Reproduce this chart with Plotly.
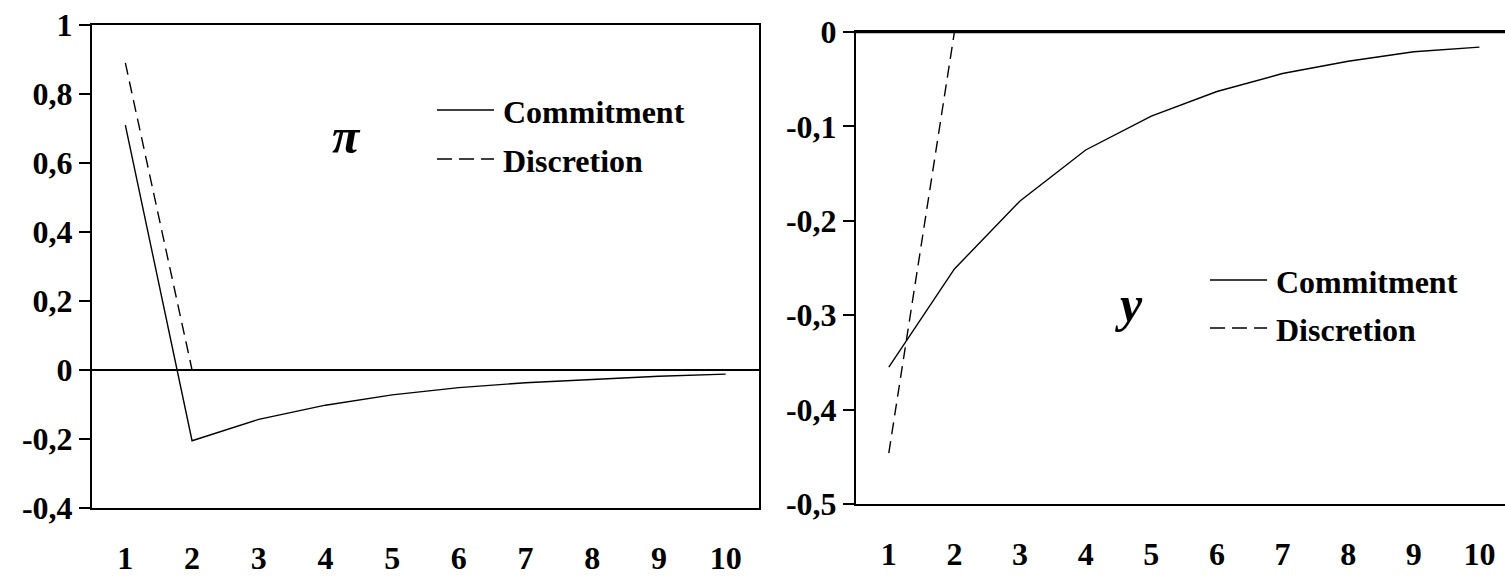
import plotly.graph_objects as go

W, H = 1505, 578

# ---------------- data ----------------
periods = [1, 2, 3, 4, 5, 6, 7, 8, 9, 10]
x_tick_labels = ["1", "2", "3", "4", "5", "6", "7", "8", "9", "10"]

pi_commitment = [0.71, -0.205, -0.143, -0.102, -0.072, -0.051, -0.037, -0.027, -0.018, -0.012]
pi_discretion = [0.89, 0.0, 0, 0, 0, 0, 0, 0, 0, 0]

y_commitment = [-0.355, -0.251, -0.179, -0.125, -0.089, -0.063, -0.044, -0.031, -0.021, -0.016]
y_discretion = [-0.446, 0, 0, 0, 0, 0, 0, 0, 0, 0]

pi_ticks = [1, 0.8, 0.6, 0.4, 0.2, 0, -0.2, -0.4]
pi_tick_labels = ["1", "0,8", "0,6", "0,4", "0,2", "0", "-0,2", "-0,4"]
y_ticks = [0, -0.1, -0.2, -0.3, -0.4, -0.5]
y_tick_labels = ["0", "-0,1", "-0,2", "-0,3", "-0,4", "-0,5"]

series_names = ["Commitment", "Discretion"]
panel_symbols = ["π", "y"]

# ---------------- styling ----------------
FONT = "Liberation Serif"
BLACK = "#000000"
DASH = "12px,7px"


def px(x):
    return x / W


def py(y):
    return 1 - y / H


fig = go.Figure()

# left panel (pi)
fig.add_trace(go.Scatter(x=periods, y=pi_commitment, mode="lines", name=series_names[0],
                         line=dict(color=BLACK, width=1.4), xaxis="x", yaxis="y", showlegend=False))
fig.add_trace(go.Scatter(x=periods, y=pi_discretion, mode="lines", name=series_names[1],
                         line=dict(color=BLACK, width=1.4, dash=DASH), xaxis="x", yaxis="y", showlegend=False))
# right panel (y)
fig.add_trace(go.Scatter(x=periods, y=y_commitment, mode="lines", name=series_names[0],
                         line=dict(color=BLACK, width=1.4), xaxis="x2", yaxis="y2", showlegend=False))
fig.add_trace(go.Scatter(x=periods, y=y_discretion, mode="lines", name=series_names[1],
                         line=dict(color=BLACK, width=1.4, dash=DASH), xaxis="x2", yaxis="y2", showlegend=False))

common_x = dict(tickmode="array", tickvals=periods, ticktext=x_tick_labels, showgrid=False,
                zeroline=False, showline=True, linecolor=BLACK, linewidth=2, ticks="",
                tickfont=dict(family=FONT, size=32, color=BLACK, weight="bold"), ticklabelstandoff=21,
                automargin=False, fixedrange=True)
common_y = dict(tickmode="array", showgrid=False, showline=True, linecolor=BLACK, linewidth=2,
                ticks="outside", ticklen=11, tickwidth=2, tickcolor=BLACK,
                tickfont=dict(family=FONT, size=32, color=BLACK, weight="bold"),
                ticklabelstandoff=0, automargin=False, fixedrange=True)

fig.update_layout(
    template="none",
    width=W, height=H,
    margin=dict(l=0, r=0, t=0, b=0, pad=0, autoexpand=False),
    paper_bgcolor="white", plot_bgcolor="white",
    font=dict(family=FONT, color=BLACK),
    xaxis=dict(domain=[px(92), px(759)], range=[0.5, 10.5], mirror=True, anchor="y", **common_x),
    yaxis=dict(domain=[py(508), py(25)], range=[-0.4, 1], tickvals=pi_ticks, ticktext=pi_tick_labels,
               mirror=True, zeroline=False, anchor="x", **common_y),
    xaxis2=dict(domain=[px(856), 1.0], range=[0.5, 10.39], mirror=True, anchor="y2", **common_x),
    yaxis2=dict(domain=[py(504), py(32)], range=[-0.5, 0], tickvals=y_ticks, ticktext=y_tick_labels,
                mirror=False, zeroline=False, anchor="x2", **common_y),
)

annotations = []
shapes = []

# horizontal zero axis lines drawn above the traces (as in the reference)
shapes.append(dict(type="line", xref="x domain", yref="y", x0=0, x1=1, y0=0, y1=0,
                   layer="above", line=dict(color=BLACK, width=2)))
shapes.append(dict(type="line", xref="x2 domain", yref="y2", x0=0, x1=1, y0=0, y1=0,
                   layer="above", line=dict(color=BLACK, width=2.5)))

# panel symbols
annotations.append(dict(x=px(346), y=py(136), xref="paper", yref="paper", text="<b><i>π</i></b>",
                        showarrow=False, font=dict(family=FONT, size=50, color=BLACK),
                        xanchor="center", yanchor="middle"))
annotations.append(dict(x=px(1129), y=py(304), xref="paper", yref="paper", text="<b><i>y</i></b>",
                        showarrow=False, font=dict(family=FONT, size=50, color=BLACK),
                        xanchor="center", yanchor="middle"))

# legend keys + labels (one legend per panel)
legend_blocks = [
    dict(x0=437, x1=494, tx=501, ys=[110, 159]),
    dict(x0=1210, x1=1267, tx=1274, ys=[280, 328]),
]
for blk in legend_blocks:
    for i, name in enumerate(series_names):
        yy = blk["ys"][i]
        shapes.append(dict(type="line", xref="paper", yref="paper",
                           x0=px(blk["x0"]), x1=px(blk["x1"]), y0=py(yy), y1=py(yy),
                           line=dict(color=BLACK, width=1.6, dash="solid" if i == 0 else "15px,7px")))
        annotations.append(dict(x=px(blk["tx"]), y=py(yy + 2), xref="paper", yref="paper",
                                text="<b>" + name + "</b>", showarrow=False,
                                font=dict(family=FONT, size=32, color=BLACK),
                                xanchor="left", yanchor="middle"))

fig.update_layout(annotations=annotations, shapes=shapes)

fig.write_html("out.html", config={"displayModeBar": False},
               post_script="document.body.style.margin='0';document.body.style.overflow='hidden';")
